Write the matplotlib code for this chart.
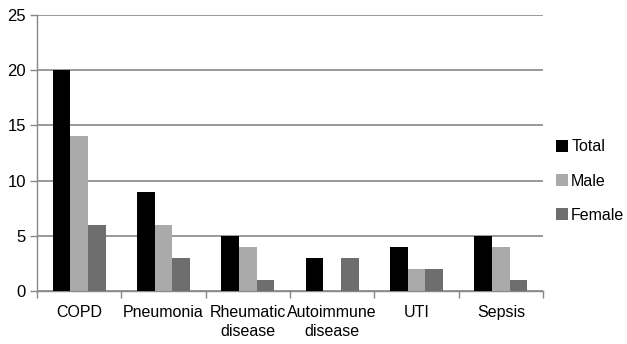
import numpy as np
import matplotlib
matplotlib.use("Agg")
import matplotlib.pyplot as plt

plt.rcParams["font.family"] = "Liberation Sans"

# data
categories = ["COPD", "Pneumonia", "Rheumatic\ndisease", "Autoimmune\ndisease", "UTI", "Sepsis"]
total = [20, 9, 5, 3, 4, 5]
male = [14, 6, 4, 0, 2, 4]
female = [6, 3, 1, 3, 2, 1]
series_names = ["Total", "Male", "Female"]
colors = ["#000000", "#aaaaaa", "#6e6e6e"]

fig = plt.figure(figsize=(6.27, 3.44), dpi=100)
ax = fig.add_axes([37/627, 1-291/344, (543-37)/627, (291-15)/344])

x = np.arange(len(categories))
w = 0.21
for i, (vals, name, c) in enumerate(zip([total, male, female], series_names, colors)):
    ax.bar(x + (i-1)*w, vals, w, color=c, label=name, zorder=3)

ax.set_xlim(-0.5, len(categories)-0.5)
ax.set_ylim(0, 25)
ax.set_yticks(range(0, 26, 5))
ax.yaxis.grid(True, color="#999999", linewidth=1.4, zorder=0)

ax.set_xticks(x)
ax.set_xticklabels(categories, fontsize=11.5, linespacing=1.35)
ax.tick_params(axis="x", length=0, pad=10)
ax.set_xticks(np.arange(-0.5, len(categories)), minor=True)
ax.tick_params(axis="x", which="minor", length=5, color="#888888", width=1)
ax.tick_params(axis="y", length=5, color="#888888", width=1, labelsize=12, pad=3)

for s in ["top", "right"]:
    ax.spines[s].set_visible(False)
for s in ["left", "bottom"]:
    ax.spines[s].set_color("#888888")
    ax.spines[s].set_linewidth(1)

leg = fig.legend(loc="center left", bbox_to_anchor=(556/627, 1-181/344), frameon=False,
                 fontsize=11.5, handlelength=0.75, handleheight=0.75, handletextpad=0.2,
                 labelspacing=1.2, borderpad=0, borderaxespad=0)

plt.savefig("out.png", dpi=100)
